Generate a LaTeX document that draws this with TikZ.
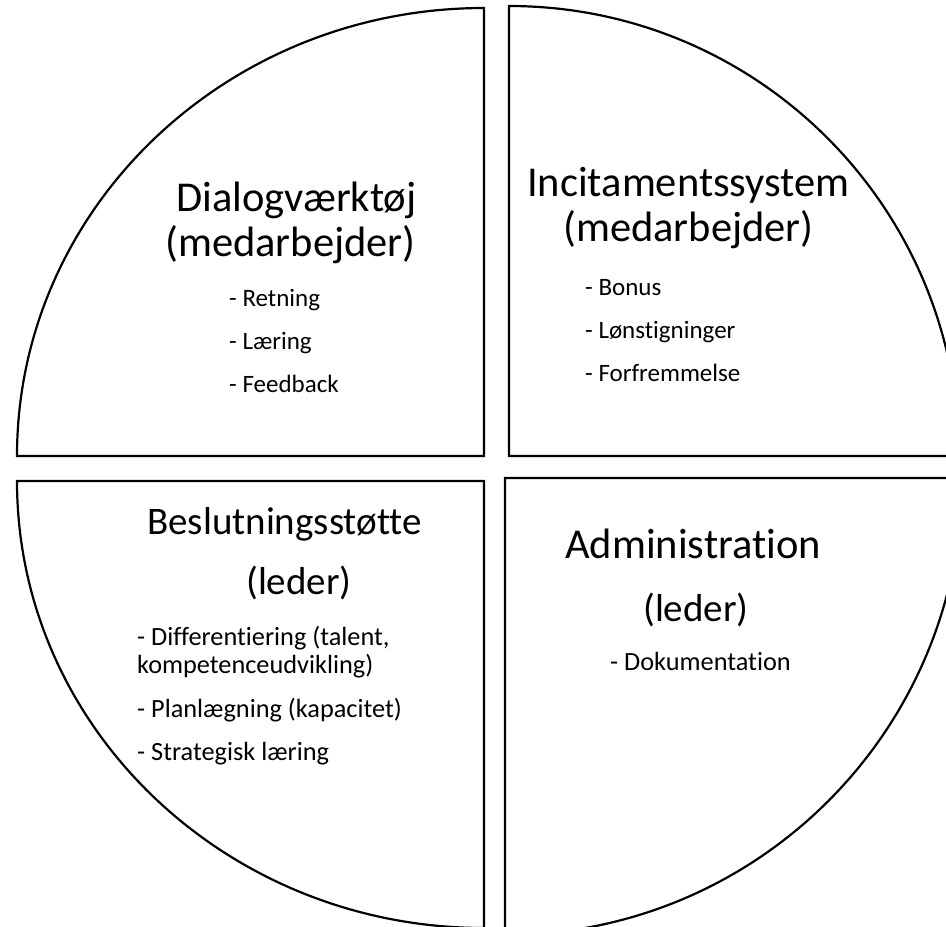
\documentclass[tikz,border=0pt]{standalone}
\usepackage{fontspec}
\setmainfont{Carlito}[Ligatures={NoCommon}]
\begin{document}
\begin{tikzpicture}[x=1pt,y=1pt,
  quarter/.style={draw=black,line width=2.2pt,line join=miter},
  title/.style={anchor=base west,inner sep=0pt,font=\fontsize{42.5}{50}\selectfont},
  subtitle/.style={anchor=base west,inner sep=0pt,font=\fontsize{39}{46}\selectfont},
  item/.style={anchor=base west,inner sep=0pt,font=\fontsize{25}{30}\selectfont},
  itemb/.style={anchor=base west,inner sep=0pt,font=\fontsize{26.3}{31}\selectfont}]
\useasboundingbox (0,0) rectangle (946,-927);
\begin{scope}
\clip (0,0) rectangle (946,-927);
% top-left
\draw[quarter] (484,-8) -- (484,-456) -- (17,-456)
  arc[start angle=180,end angle=90,x radius=467pt,y radius=448pt] -- cycle;
% top-right
\draw[quarter] (509,-6) -- (509,-456) -- (959,-456)
  arc[start angle=0,end angle=90,radius=450pt] -- cycle;
% bottom-left
\draw[quarter] (484,-481) -- (17,-481)
  arc[start angle=180,end angle=270,x radius=467pt,y radius=447pt] -- cycle;
% bottom-right
\draw[quarter] (505,-478) -- (962,-478)
  arc[start angle=0,end angle=-90,radius=457pt] -- cycle;
\end{scope}
% texts top-left
\node[title] (t1a) at (176,-211) {Dialogværktøj};
\node[title] (t1b) at (165,-256) {(medarbejder)};
\node[item] (i1a) at (229,-306) {- Retning};
\node[item] (i1b) at (229,-349) {- Læring};
\node[item] (i1c) at (229,-392) {- Feedback};
% top-right
\node[title] (t2a) at (527,-196) {Incitamentssystem};
\node[title] (t2b) at (563,-241) {(medarbejder)};
\node[item] (i2a) at (585,-295) {- Bonus};
\node[item] (i2b) at (585,-338) {- Lønstigninger};
\node[item] (i2c) at (585,-381) {- Forfremmelse};
% bottom-left
\node[subtitle] (t3a) at (147,-534) {Beslutningsstøtte};
\node[subtitle] (t3b) at (246,-594) {(leder)};
\node[itemb] (i3a) at (137,-645) {- Differentiering (talent,};
\node[itemb] (i3b) at (137,-673) {kompetenceudvikling)};
\node[itemb] (i3c) at (137,-717) {- Planlægning (kapacitet)};
\node[itemb] (i3d) at (137,-760) {- Strategisk læring};
% bottom-right
\node[title] (t4a) at (565,-558) {Administration};
\node[subtitle] (t4b) at (643,-621) {(leder)};
\node[itemb] (i4a) at (610,-670) {- Dokumentation};
\end{tikzpicture}
\end{document}
